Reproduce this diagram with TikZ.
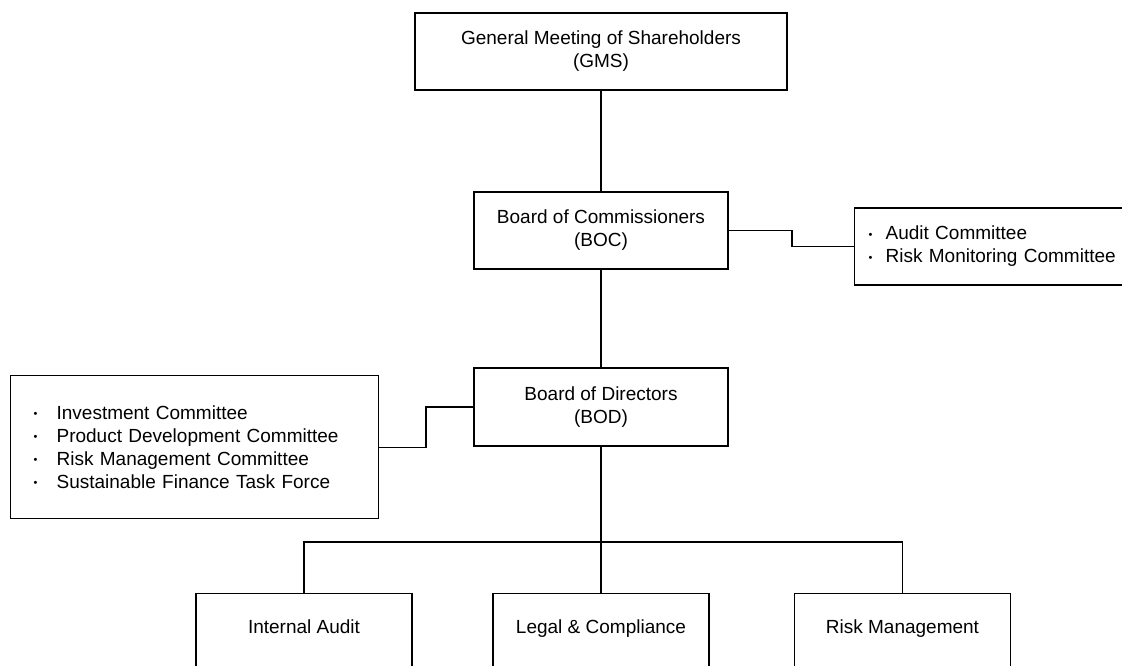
\documentclass[tikz,border=0pt]{standalone}
\usepackage{fontspec}
\setmainfont{Liberation Sans}
\newcommand{\blt}[1]{\makebox[#1][l]{\raisebox{1.6pt}{\fontsize{11}{11}\selectfont •}}}
\begin{document}
\begin{tikzpicture}[x=1pt,y=-1pt,line width=1.2pt,
  txt/.style={font=\fontsize{19}{23}\selectfont},
  box/.style={draw,txt,inner sep=0pt,align=center},
  listbox/.style={draw,txt,align=left,inner ysep=0pt},
  lowbox/.style={draw,txt,inner sep=0pt,align=center,anchor=north,
    minimum width=216pt,text height=40pt,text depth=90pt},
  link/.style={draw,line width=1.2pt}]
\useasboundingbox (0,0) rectangle (1122,665);
\clip (0,0) rectangle (1122,665);
\fill[white] (0,0) rectangle (1122,665);

\node[box,minimum width=372pt,minimum height=77pt] (gms) at (601,51.5)
  {General Meeting of Shareholders\\(GMS)};
\node[box,minimum width=254pt,minimum height=77pt] (boc) at (601,230.5)
  {Board of Commissioners\\(BOC)};
\node[box,minimum width=254pt,minimum height=78pt] (bod) at (601,407)
  {Board of Directors\\(BOD)};

\node[listbox,anchor=west,minimum width=300pt,minimum height=77pt,
  inner xsep=14pt,text width=272pt] (rc) at (854,246.5)
  {\blt{17pt}Audit Committee\\
   \blt{17pt}Risk Monitoring Committee};

\node[listbox,anchor=north west,minimum width=368pt,minimum height=143pt,
  inner xsep=23pt,text width=322pt] (lc) at (10,375)
  {\blt{23pt}Investment Committee\\
   \blt{23pt}Product Development Committee\\
   \blt{23pt}Risk Management Committee\\
   \blt{23pt}Sustainable Finance Task Force};

\node[lowbox] (ia) at (304,593) {Internal Audit};
\node[lowbox] (lgc) at (601,593) {Legal \& Compliance};
\node[lowbox] (rm) at (902.5,593) {Risk Management};

\coordinate (jr) at (792,0);
\coordinate (jl) at (426,0);
\coordinate (hb) at (0,542);

\draw[link] (gms.south) -- (boc.north);
\draw[link] (boc.south) -- (bod.north);
\draw[link] (boc.east) -- (boc.east -| jr) |- (rc.west);
\draw[link] (lc.east) -- (lc.east -| jl) |- (bod.west);
\draw[link] (bod.south) -- (bod.south |- hb);
\draw[link] (ia.north) -- (ia.north |- hb) -- (rm.north |- hb) -- (rm.north);
\draw[link] (lgc.north) -- (lgc.north |- hb);
\end{tikzpicture}
\end{document}
